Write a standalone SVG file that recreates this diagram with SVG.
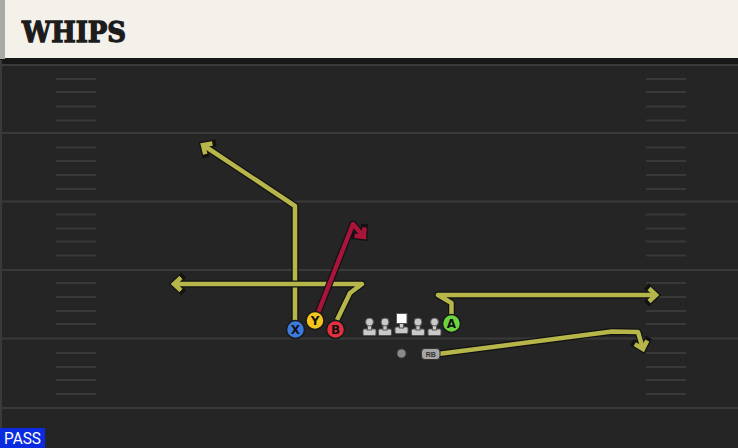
<svg xmlns="http://www.w3.org/2000/svg" width="738" height="448" viewBox="0 0 738 448">
<defs>
<style>
.yard{stroke:#3a3a3a;stroke-width:2}
.hash{stroke:#393939;stroke-width:2}
.out{fill:none;stroke:#121212;stroke-width:7;stroke-linejoin:round}
.oli{fill:none;stroke:#b6b64a;stroke-width:4.5;stroke-linejoin:round}
.red{fill:none;stroke:#a8143a;stroke-width:4.5;stroke-linejoin:round}
.pl{stroke:#1a1a1a;stroke-width:1.5}
.lbl{font-family:"DejaVu Sans","Liberation Sans",sans-serif;font-weight:bold;font-size:12px;fill:#111;text-anchor:middle}
.ol{fill:#c9c9c9;stroke:#555;stroke-width:1}
</style>
<marker id="aOut" markerUnits="userSpaceOnUse" viewBox="-12 -12 24 24" markerWidth="24" markerHeight="24" refX="0" refY="0" orient="auto"><path d="M-7 -6.5 L0 0 L-7 6.5" fill="none" stroke="#121212" stroke-width="7" stroke-linejoin="miter" stroke-linecap="square"/></marker>
<marker id="aOli" markerUnits="userSpaceOnUse" viewBox="-12 -12 24 24" markerWidth="24" markerHeight="24" refX="0" refY="0" orient="auto"><path d="M-7 -6.5 L0 0 L-7 6.5" fill="none" stroke="#b6b64a" stroke-width="4.5" stroke-linejoin="miter"/></marker>
<marker id="aRed" markerUnits="userSpaceOnUse" viewBox="-12 -12 24 24" markerWidth="24" markerHeight="24" refX="0" refY="0" orient="auto"><path d="M-7 -6.5 L0 0 L-7 6.5" fill="none" stroke="#a8143a" stroke-width="4.5" stroke-linejoin="miter"/></marker>
</defs>
<rect x="0" y="0" width="738" height="448" fill="#252525"/>
<rect x="0" y="58" width="738" height="6" fill="#171717"/>
<rect x="0" y="60" width="2" height="388" fill="#3a3a3a"/>
<g id="field">
<line class="yard" x1="0" y1="65" x2="738" y2="65"/>
<line class="yard" x1="0" y1="133" x2="738" y2="133"/>
<line class="yard" x1="0" y1="201.5" x2="738" y2="201.5"/>
<line class="yard" x1="0" y1="270" x2="738" y2="270"/>
<line class="yard" x1="0" y1="338.5" x2="738" y2="338.5"/>
<line class="yard" x1="0" y1="408" x2="738" y2="408"/>
<path class="hash" d="M56 79H96M56 92H96M56 106.5H96M56 120.5H96M56 147.5H96M56 161H96M56 175H96M56 189H96M56 214.5H96M56 228.5H96M56 241.5H96M56 255.5H96M56 283H96M56 297H96M56 311H96M56 324H96M56 353H96M56 367H96M56 380H96M56 394H96"/>
<path class="hash" d="M646 79H686M646 92H686M646 106.5H686M646 120.5H686M646 147.5H686M646 161H686M646 175H686M646 189H686M646 214.5H686M646 228.5H686M646 241.5H686M646 255.5H686M646 283H686M646 297H686M646 311H686M646 324H686M646 353H686M646 367H686M646 380H686M646 394H686"/>
</g>
<g id="header">
<rect x="0" y="0" width="738" height="58" fill="#f4f1eb"/>
<rect x="0" y="0" width="5" height="59" fill="#a8aaa5"/>
<text x="22" y="42" font-family="'DejaVu Serif','Liberation Serif',serif" font-weight="bold" font-size="28" fill="#1c1c1c" stroke="#1c1c1c" stroke-width="1.3" textLength="104" lengthAdjust="spacingAndGlyphs">WHIPS</text>
</g>
<g id="connectors">
<path class="out" d="M295 320V206L203 145" marker-end="url(#aOut)"/>
<path class="oli" d="M295 320V206L203 145" marker-end="url(#aOli)"/>
<path class="out" d="M337 320L350 293L362 284H174" marker-end="url(#aOut)"/>
<path class="oli" d="M337 320L350 293L362 284H174" marker-end="url(#aOli)"/>
<path class="out" d="M316 318L353 224L364 237" marker-end="url(#aOut)"/>
<path class="red" d="M316 318L353 224L364 237" marker-end="url(#aRed)"/>
<path class="out" d="M451.5 315V303L438 295H656" marker-end="url(#aOut)"/>
<path class="oli" d="M451.5 315V303L438 295H656" marker-end="url(#aOli)"/>
<path class="out" d="M438 354L612 331.5L638 332L643 349" marker-end="url(#aOut)"/>
<path class="oli" d="M438 354L612 331.5L638 332L643 349" marker-end="url(#aOli)"/>
</g>
<g id="X"><circle class="pl" cx="295.5" cy="329.5" r="9" fill="#3c7ade"/><text class="lbl" x="295.5" y="334">X</text></g>
<g id="Y"><circle class="pl" cx="315" cy="320.5" r="9" fill="#f5c41a"/><text class="lbl" x="315" y="325">Y</text></g>
<g id="B"><circle class="pl" cx="335.5" cy="329.5" r="9" fill="#e3303d"/><text class="lbl" x="335.5" y="334">B</text></g>
<g id="A"><circle class="pl" cx="451.5" cy="323.5" r="9" fill="#6cd43f"/><text class="lbl" x="451.5" y="328">A</text></g>
<g id="LT"><rect class="ol" x="363" y="329" width="13" height="6.5" rx="1.5"/><rect class="ol" x="367.5" y="322" width="4" height="8"/><circle class="ol" cx="369.5" cy="322" r="4"/></g>
<g id="LG"><rect class="ol" x="378.5" y="329" width="13" height="6.5" rx="1.5"/><rect class="ol" x="383" y="322" width="4" height="8"/><circle class="ol" cx="385" cy="322" r="4"/></g>
<g id="C"><rect class="ol" x="395" y="327" width="13" height="6.5" rx="1.5"/><rect class="ol" x="399.5" y="322" width="4" height="6"/><rect x="396.5" y="313.5" width="10.5" height="10" fill="#ffffff" stroke="#555" stroke-width="1"/></g>
<g id="RG"><rect class="ol" x="411.5" y="329" width="13" height="6.5" rx="1.5"/><rect class="ol" x="416" y="322" width="4" height="8"/><circle class="ol" cx="418" cy="322" r="4"/></g>
<g id="RT"><rect class="ol" x="428" y="329" width="13" height="6.5" rx="1.5"/><rect class="ol" x="432.5" y="322" width="4" height="8"/><circle class="ol" cx="434.5" cy="322" r="4"/></g>
<g id="QB"><circle cx="401.5" cy="353.5" r="4.5" fill="#8a8a8a" stroke="#444" stroke-width="1"/></g>
<g id="RB"><rect x="421.5" y="348.5" width="18.5" height="11" rx="3.5" fill="#a6a6a6" stroke="#333" stroke-width="1"/><text x="430.7" y="357" font-family="'Liberation Sans',sans-serif" font-weight="bold" font-size="7" fill="#333" text-anchor="middle">RB</text></g>
<g id="pass"><rect x="0" y="428" width="45" height="20" fill="#0a2be0"/><text x="4" y="444" font-family="Roboto,'Liberation Sans',sans-serif" font-size="16" fill="#ffffff" textLength="37" lengthAdjust="spacingAndGlyphs">PASS</text></g>
</svg>
